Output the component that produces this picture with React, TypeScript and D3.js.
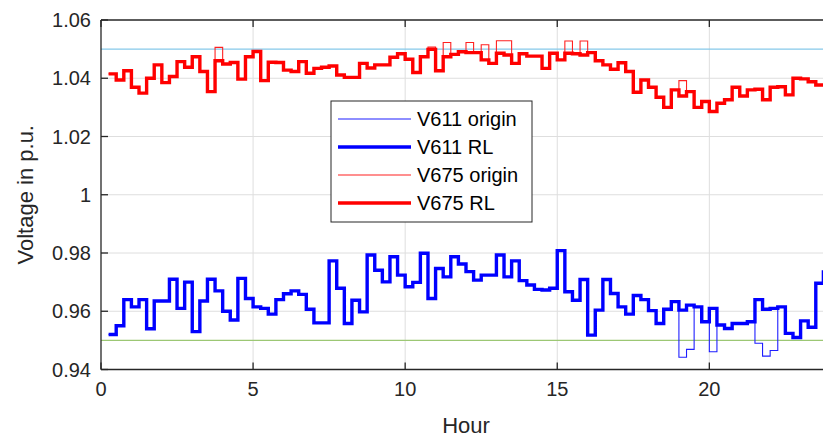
import React from "react";
import * as d3 from "d3";

// Quarter-hour sample times (hours)
const hours: number[] = d3.range(1, 96).map((i) => i * 0.25);

// Bus 611 voltage (p.u.) with the RL controller
const v611RL: number[] = [
  0.952, 0.955, 0.964, 0.9615, 0.964, 0.954, 0.9635, 0.9635, 0.971, 0.961,
  0.970, 0.953, 0.9635, 0.971, 0.967, 0.960, 0.957, 0.9713, 0.9644, 0.9615,
  0.961, 0.959, 0.964, 0.966, 0.967, 0.9658, 0.9607, 0.956, 0.956, 0.9773,
  0.9679, 0.9558, 0.9638, 0.9598, 0.9793, 0.9741, 0.9701, 0.9787, 0.9724, 0.9684,
  0.9699, 0.9799, 0.9644, 0.9747, 0.9718, 0.9787, 0.9762, 0.9736, 0.9707, 0.9724,
  0.9724, 0.9793, 0.9718, 0.9773, 0.9705, 0.969, 0.9675, 0.9673, 0.9679, 0.9808,
  0.9667, 0.9638, 0.9709, 0.9518, 0.9604, 0.9709, 0.9661, 0.9615, 0.959, 0.9654,
  0.964, 0.9602, 0.9558, 0.9607, 0.9633, 0.9604, 0.9621, 0.9615, 0.9564, 0.961,
  0.9553, 0.9541, 0.9558, 0.9558, 0.9564, 0.964, 0.9607, 0.961, 0.9615, 0.9524,
  0.951, 0.9567, 0.9545, 0.9696, 0.9741,
];

// Bus 611 voltage (p.u.) without control
const v611Origin: number[] = [
  0.952, 0.955, 0.964, 0.9615, 0.964, 0.954, 0.9635, 0.9635, 0.971, 0.961,
  0.970, 0.953, 0.9635, 0.971, 0.967, 0.960, 0.957, 0.9713, 0.9644, 0.9615,
  0.961, 0.959, 0.964, 0.966, 0.967, 0.9658, 0.9607, 0.956, 0.956, 0.9773,
  0.9679, 0.9558, 0.9638, 0.9598, 0.9793, 0.9741, 0.9701, 0.9787, 0.9724, 0.9684,
  0.9699, 0.9799, 0.9644, 0.9747, 0.9718, 0.9787, 0.9762, 0.9736, 0.9707, 0.9724,
  0.9724, 0.9793, 0.9718, 0.9773, 0.9705, 0.969, 0.9675, 0.9673, 0.9679, 0.9808,
  0.9667, 0.9638, 0.9709, 0.9518, 0.9604, 0.9709, 0.9661, 0.9615, 0.959, 0.9654,
  0.964, 0.9602, 0.9558, 0.9607, 0.9633, 0.9442, 0.9469, 0.9615, 0.9564, 0.9461,
  0.9553, 0.9541, 0.9558, 0.9558, 0.9564, 0.949, 0.9446, 0.9465, 0.9615, 0.9524,
  0.951, 0.9567, 0.9545, 0.9696, 0.9741,
];

// Bus 675 voltage (p.u.) with the RL controller
const v675RL: number[] = [
  1.0415, 1.0394, 1.0426, 1.0369, 1.0349, 1.04, 1.0446, 1.0385, 1.0406, 1.0457,
  1.0438, 1.0474, 1.0423, 1.0354, 1.046, 1.0449, 1.0454, 1.0397, 1.0474, 1.0492,
  1.0392, 1.0455, 1.0454, 1.0428, 1.0423, 1.0457, 1.0417, 1.0434, 1.0438, 1.0442,
  1.0411, 1.0403, 1.0403, 1.0451, 1.0435, 1.0446, 1.0446, 1.0472, 1.0484, 1.0465,
  1.042, 1.0474, 1.0499, 1.0426, 1.0474, 1.0482, 1.0491, 1.0488, 1.0488, 1.0463,
  1.0451, 1.0486, 1.048, 1.0451, 1.0484, 1.0476, 1.0476, 1.0434, 1.0486, 1.0463,
  1.0486, 1.0484, 1.048, 1.0488, 1.046, 1.0446, 1.0431, 1.0453, 1.0423, 1.0352,
  1.0394, 1.0369, 1.0335, 1.03, 1.036, 1.0339, 1.0354, 1.03, 1.032, 1.0286,
  1.0314, 1.0326, 1.0369, 1.0339, 1.036, 1.0362, 1.0326, 1.0369, 1.0371, 1.0343,
  1.04, 1.0398, 1.0388, 1.0377, 1.038,
];

// Bus 675 voltage (p.u.) without control
const v675Origin: number[] = [
  1.0415, 1.0394, 1.0426, 1.0369, 1.0349, 1.04, 1.0446, 1.0385, 1.0406, 1.0457,
  1.0438, 1.0474, 1.0423, 1.0354, 1.0506, 1.0449, 1.0454, 1.0397, 1.0474, 1.0492,
  1.0392, 1.0455, 1.0454, 1.0428, 1.0423, 1.0457, 1.0417, 1.0434, 1.0438, 1.0442,
  1.0411, 1.0403, 1.0403, 1.0451, 1.0435, 1.0446, 1.0446, 1.0472, 1.0484, 1.0465,
  1.042, 1.0474, 1.0507, 1.0426, 1.0523, 1.0482, 1.0491, 1.0523, 1.0488, 1.0515,
  1.0451, 1.0529, 1.0529, 1.0451, 1.0484, 1.0476, 1.0476, 1.0434, 1.0486, 1.0463,
  1.0528, 1.0484, 1.0528, 1.0488, 1.046, 1.0446, 1.0431, 1.0453, 1.0423, 1.0352,
  1.0394, 1.0369, 1.0335, 1.03, 1.036, 1.0392, 1.0354, 1.03, 1.032, 1.0286,
  1.0314, 1.0326, 1.0369, 1.0339, 1.036, 1.0362, 1.0326, 1.0369, 1.0371, 1.0343,
  1.04, 1.0398, 1.0388, 1.0377, 1.038,
];

const xTicks: number[] = [0, 5, 10, 15, 20];
const yTicks: number[] = [0.94, 0.96, 0.98, 1.0, 1.02, 1.04, 1.06];
const upperLimit = 1.05;
const lowerLimit = 0.95;

const W = 823;
const H = 442;
const left = 101;
const right = 831;
const top = 20;
const bottom = 369.5;

const FONT = "'Liberation Sans', Arial, Helvetica, sans-serif";
const AXIS = "#262626";

const x = d3.scaleLinear().domain([0, 24]).range([left, right]);
const y = d3.scaleLinear().domain([0.94, 1.06]).range([bottom, top]);

const stair = d3
  .line<number>()
  .x((_, i) => x(hours[i]))
  .y((d) => y(d))
  .curve(d3.curveStepAfter);

const series = [
  { name: "V611 origin", data: v611Origin, color: "#1f1fff", width: 1.1 },
  { name: "V611 RL", data: v611RL, color: "#0000ff", width: 3.4 },
  { name: "V675 origin", data: v675Origin, color: "#ff2020", width: 1.1 },
  { name: "V675 RL", data: v675RL, color: "#ff0000", width: 3.4 },
];

const fmt = (v: number) => (v === 1 ? "1" : d3.format(".2f")(v));

export default function App() {
  return (
    <svg
      width={W}
      height={H}
      style={{ position: "absolute", left: 0, top: 0, background: "#fff" }}
      fontFamily={FONT}
    >
      <defs>
        <clipPath id="plot-clip">
          <rect x={left} y={top} width={right - left} height={bottom - top} />
        </clipPath>
      </defs>
      <rect x={0} y={0} width={W} height={H} fill="#fff" />

      {/* grid */}
      <g stroke="#dedede" strokeWidth={1}>
        {xTicks.slice(1).map((t) => (
          <line key={"gx" + t} x1={x(t)} x2={x(t)} y1={top} y2={bottom} />
        ))}
        {yTicks.slice(1, -1).map((t) => (
          <line key={"gy" + t} x1={left} x2={right} y1={y(t)} y2={y(t)} />
        ))}
      </g>

      {/* voltage limits */}
      <line x1={left} x2={right} y1={y(upperLimit)} y2={y(upperLimit)} stroke="#86c9ea" strokeWidth={1.3} />
      <line x1={left} x2={right} y1={y(lowerLimit)} y2={y(lowerLimit)} stroke="#9cc774" strokeWidth={1.3} />

      {/* voltage profiles */}
      <g clipPath="url(#plot-clip)" fill="none">
        {series.map((s) => (
          <path
            key={s.name}
            d={stair(s.data) || ""}
            stroke={s.color}
            strokeWidth={s.width}
            strokeLinejoin="miter"
            strokeLinecap="butt"
          />
        ))}
      </g>

      {/* axes box */}
      <g stroke={AXIS} strokeWidth={1.3} fill="none">
        <line x1={left} x2={left} y1={top} y2={bottom} />
        <line x1={left} x2={right} y1={bottom} y2={bottom} />
        <line x1={left} x2={right} y1={top} y2={top} />
        {xTicks.map((t) => (
          <g key={"tx" + t}>
            <line x1={x(t)} x2={x(t)} y1={bottom} y2={bottom - 7} />
            <line x1={x(t)} x2={x(t)} y1={top} y2={top + 7} />
          </g>
        ))}
        {yTicks.map((t) => (
          <line key={"ty" + t} x1={left} x2={left + 7} y1={y(t)} y2={y(t)} />
        ))}
      </g>

      {/* tick labels */}
      <g fill={AXIS} fontSize={20}>
        {xTicks.map((t) => (
          <text key={"lx" + t} x={x(t)} y={bottom + 26} textAnchor="middle">
            {t}
          </text>
        ))}
        {yTicks.map((t) => (
          <text key={"ly" + t} x={left - 10} y={y(t) + 7} textAnchor="end">
            {fmt(t)}
          </text>
        ))}
      </g>

      {/* axis titles */}
      <text x={(left + right) / 2} y={433} textAnchor="middle" fontSize={22} fill={AXIS}>
        Hour
      </text>
      <text
        transform={`translate(33, ${(top + bottom) / 2}) rotate(-90)`}
        textAnchor="middle"
        fontSize={22}
        fill={AXIS}
      >
        Voltage in p.u.
      </text>

      {/* legend */}
      <g>
        <rect x={331} y={101} width={201} height={121} fill="#fff" stroke={AXIS} strokeWidth={1} />
        {series.map((s, i) => {
          const ry = 119 + i * 28;
          return (
            <g key={"lg" + s.name}>
              <line x1={338} x2={411} y1={ry} y2={ry} stroke={s.color} strokeWidth={s.width} />
              <text x={417} y={ry + 7} fontSize={20} fill="#000">
                {s.name}
              </text>
            </g>
          );
        })}
      </g>
    </svg>
  );
}
